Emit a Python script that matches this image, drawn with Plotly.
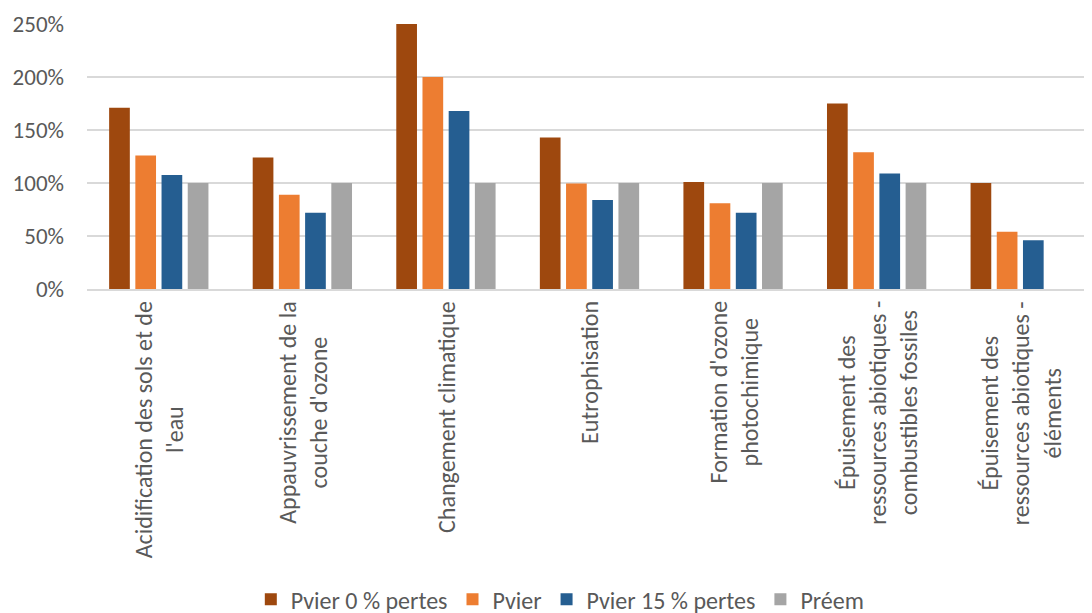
import plotly.graph_objects as go

categories = [
    "Acidification des sols et de l'eau",
    "Appauvrissement de la couche d'ozone",
    "Changement climatique",
    "Eutrophisation",
    "Formation d'ozone photochimique",
    "Épuisement des ressources abiotiques - combustibles fossiles",
    "Épuisement des ressources abiotiques - éléments",
]
category_labels = [
    "Acidification des sols et de<br>l'eau",
    "Appauvrissement de la<br>couche d'ozone",
    "Changement climatique",
    "Eutrophisation",
    "Formation d'ozone<br>photochimique",
    "Épuisement des<br>ressources abiotiques -<br>combustibles fossiles",
    "Épuisement des<br>ressources abiotiques -<br>éléments",
]
series_names = ["Pvier 0 % pertes", "Pvier", "Pvier 15 % pertes", "Préem"]
pvier0 = [171, 124, 250, 143, 101, 175, 100]
pvier = [126, 89, 200, 99.5, 81, 129, 54]
pvier15 = [107.5, 72, 168, 84, 72, 109, 46]
preem = [100, 100, 100, 100, 100, 100, None]
colors = ["#9E480E", "#ED7D31", "#255E91", "#A5A5A5"]
yticks = [0, 50, 100, 150, 200, 250]
ytick_labels = ["0%", "50%", "100%", "150%", "200%", "250%"]

FONT = "Calibri, Carlito, Lato, sans-serif"
fig = go.Figure()
for name, vals, col in zip(series_names, [pvier0, pvier, pvier15, preem], colors):
    fig.add_trace(go.Bar(x=categories, y=vals, name=name, marker_color=col,
                         marker_line_width=0))

for cat, lab in zip(categories, category_labels):
    fig.add_annotation(x=cat, xref="x", y=0, yref="paper", text=lab,
                       textangle=-90, showarrow=False, xanchor="center",
                       yanchor="top", yshift=-10, align="center",
                       font=dict(family=FONT, size=24, color="#595959"))

fig.update_layout(
    width=1092, height=613,
    margin=dict(l=79, r=8, t=16, b=332, autoexpand=False),
    paper_bgcolor="white", plot_bgcolor="white",
    barmode="group", bargap=0.27, bargroupgap=0.21,
    font=dict(family=FONT, color="#595959", size=23),
    legend=dict(orientation="h", x=0.163, xanchor="left", y=-1.172, yanchor="middle",
                font=dict(size=24, color="#595959"), itemwidth=30, traceorder="normal"),
    showlegend=True,
)
fig.update_xaxes(showticklabels=False, showline=True, linecolor="#d9d9d9", linewidth=1.5,
                 ticks="", automargin=False)
fig.update_yaxes(range=[0, 250], tickvals=yticks, ticktext=ytick_labels,
                 showgrid=True, gridcolor="#d9d9d9", gridwidth=1.5, zeroline=False,
                 ticks="", automargin=False, ticklabelstandoff=22,
                 tickfont=dict(size=23, color="#595959"))

fig.write_html("out.html")
